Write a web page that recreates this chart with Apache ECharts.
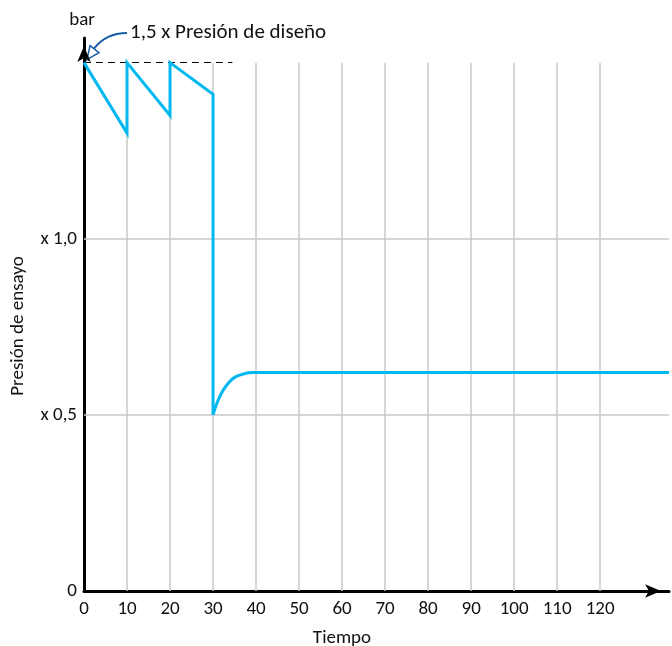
<!DOCTYPE html>
<html lang="es">
<head>
<meta charset="UTF-8">
<title>Presión de ensayo</title>
<script src="https://cdn.jsdelivr.net/npm/echarts@6/dist/echarts.min.js"></script>
<style>
html, body { margin: 0; padding: 0; background: #fff; }
#chart { width: 672px; height: 646px; }
</style>
</head>
<body>
<div id="chart"></div>
<script>
// tramo en diente de sierra (0-30) y caída
const sawTime = [0, 10, 10, 20, 20, 30, 30];
const sawPressure = [1.5, 1.3, 1.5, 1.35, 1.5, 1.41, 0.5];
// recuperación tras la caída
const recTime = [30, 30.9, 32.4, 34.7, 37, 39.5, 136];
const recPressure = [0.5, 0.533, 0.571, 0.604, 0.616, 0.62, 0.62];

const xTicks = [0, 10, 20, 30, 40, 50, 60, 70, 80, 90, 100, 110, 120];
const yTicks = [0, 0.5, 1.0];
const yTickLabels = ['0', 'x 0,5', 'x 1,0'];
const designLevel = 1.5;
const dashEnd = 34.5;

const FONT = 'Carlito, Lato, "Open Sans", sans-serif';
const BLUE = '#00b8f0';
const GRID = '#c8c8c8';

const chart = echarts.init(document.getElementById('chart'));

const vGrid = xTicks.filter(v => v > 0).map(v => [{ coord: [v, 0] }, { coord: [v, designLevel] }]);
const hGrid = yTicks.filter(v => v > 0).map(v => [{ coord: [0, v] }, { coord: [136, v] }]);

chart.setOption({
  animation: false,
  grid: { left: 84, right: 3, top: 38, bottom: 55 },
  xAxis: {
    type: 'value',
    min: 0,
    max: 136,
    interval: 10,
    axisLine: { lineStyle: { color: '#000', width: 3 }, symbol: ['none', 'arrow'], symbolSize: [10, 16], symbolOffset: [0, -8] },
    axisTick: { show: false },
    splitLine: { show: false },
    axisLabel: {
      showMaxLabel: false,
      margin: 9,
      color: '#111',
      fontFamily: FONT,
      fontSize: 19,
      formatter: v => (xTicks.indexOf(v) >= 0 ? String(v) : '')
    }
  },
  yAxis: {
    type: 'value',
    min: 0,
    max: 1.57,
    interval: 0.5,
    axisLine: { show: true, lineStyle: { color: '#000', width: 3 }, symbol: ['none', 'arrow'], symbolSize: [10, 16], symbolOffset: [0, -8] },
    axisTick: { show: false },
    splitLine: { show: false },
    axisLabel: {
      showMaxLabel: false,
      margin: 7,
      color: '#111',
      fontFamily: FONT,
      fontSize: 19,
      formatter: v => {
        const i = yTicks.findIndex(t => Math.abs(t - v) < 1e-6);
        return i >= 0 ? yTickLabels[i] : '';
      }
    }
  },
  series: [
    {
      type: 'line',
      data: [],
      silent: true,
      markLine: {
        silent: true,
        symbol: 'none',
        label: { show: false },
        lineStyle: { color: GRID, width: 1.5, type: 'solid' },
        data: vGrid.concat(hGrid)
      }
    },
    {
      type: 'line',
      data: [],
      silent: true,
      markLine: {
        silent: true,
        symbol: 'none',
        label: { show: false },
        lineStyle: { color: '#000', width: 1, type: [7, 5] },
        data: [[{ coord: [0, designLevel] }, { coord: [dashEnd, designLevel] }]]
      }
    },
    {
      type: 'line',
      data: sawTime.map((t, i) => [t, sawPressure[i]]),
      showSymbol: false,
      lineStyle: { color: BLUE, width: 3, join: 'miter' },
      z: 5
    },
    {
      type: 'line',
      data: recTime.map((t, i) => [t, recPressure[i]]),
      showSymbol: false,
      smooth: 0.4,
      lineStyle: { color: BLUE, width: 3 },
      z: 5
    }
  ]
});

// anotaciones y nombres de ejes
const tip = chart.convertToPixel({ gridIndex: 0 }, [0, designLevel]);
chart.setOption({
  graphic: [
    { type: 'text', x: 82, y: 20, style: { text: 'bar', font: '19px ' + FONT, fill: '#111', align: 'center', verticalAlign: 'middle' } },
    { type: 'text', x: 130, y: 33, style: { text: '1,5 x Presión de diseño', font: '21px ' + FONT, fill: '#111', verticalAlign: 'middle' } },
    {
      type: 'bezierCurve',
      shape: { x1: 127, y1: 33, cpx1: 106, cpy1: 33, x2: tip[0] + 10, y2: tip[1] - 14 },
      style: { stroke: '#1a5ea8', lineWidth: 2, fill: null }
    },
    {
      type: 'polygon',
      shape: { points: [[tip[0] + 3, tip[1] - 3], [tip[0] + 15, tip[1] - 10], [tip[0] + 6, tip[1] - 17]] },
      style: { stroke: '#1a5ea8', lineWidth: 1.5, fill: '#fff' }
    },
    { type: 'text', x: 342, y: 638, style: { text: 'Tiempo', font: '19px ' + FONT, fill: '#111', align: 'center', verticalAlign: 'middle' } },
    { type: 'text', x: 18, y: 326, rotation: Math.PI / 2, style: { text: 'Presión de ensayo', font: '19px ' + FONT, fill: '#111', align: 'center', verticalAlign: 'middle' } }
  ]
});

window.addEventListener('resize', () => chart.resize());
</script>
</body>
</html>
